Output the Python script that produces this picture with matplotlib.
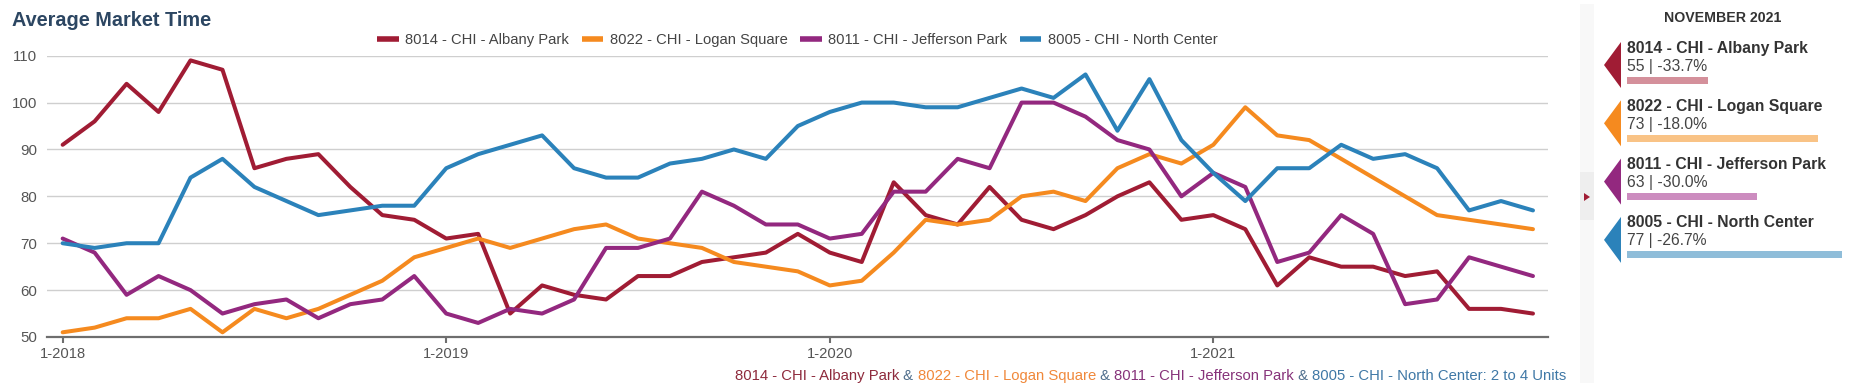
import matplotlib
matplotlib.use("Agg")
import matplotlib.pyplot as plt
from matplotlib.lines import Line2D
from matplotlib.patches import Polygon, Rectangle

plt.rcParams['font.family'] = ['Liberation Sans', 'DejaVu Sans']

W, H = 1873, 383

# monthly average market time, 1-2018 .. 11-2021
albany = [91, 96, 104, 98, 109, 107, 86, 88, 89, 82, 76, 75,
          71, 72, 55, 61, 59, 58, 63, 63, 66, 67, 68, 72,
          68, 66, 83, 76, 74, 82, 75, 73, 76, 80, 83, 75,
          76, 73, 61, 67, 65, 65, 63, 64, 56, 56, 55]
logan = [51, 52, 54, 54, 56, 51, 56, 54, 56, 59, 62, 67,
         69, 71, 69, 71, 73, 74, 71, 70, 69, 66, 65, 64,
         61, 62, 68, 75, 74, 75, 80, 81, 79, 86, 89, 87,
         91, 99, 93, 92, 88, 84, 80, 76, 75, 74, 73]
jefferson = [71, 68, 59, 63, 60, 55, 57, 58, 54, 57, 58, 63,
             55, 53, 56, 55, 58, 69, 69, 71, 81, 78, 74, 74,
             71, 72, 81, 81, 88, 86, 100, 100, 97, 92, 90, 80,
             85, 82, 66, 68, 76, 72, 57, 58, 67, 65, 63]
north = [70, 69, 70, 70, 84, 88, 82, 79, 76, 77, 78, 78,
         86, 89, 91, 93, 86, 84, 84, 87, 88, 90, 88, 95,
         98, 100, 100, 99, 99, 101, 103, 101, 106, 94, 105, 92,
         85, 79, 86, 86, 91, 88, 89, 86, 77, 79, 77]

names = ["8014 - CHI - Albany Park", "8022 - CHI - Logan Square",
         "8011 - CHI - Jefferson Park", "8005 - CHI - North Center"]
series = [albany, logan, jefferson, north]
colors = ["#a01c34", "#f58a1f", "#93287f", "#2b82ba"]
light_colors = ["#d4909b", "#f9c386", "#cc8cbf", "#8fbdd9"]
text_colors = ["#8e2a3c", "#f0883a", "#87337a", "#3f78a6"]

tick_pos = [0, 12, 24, 36]
tick_labels = ["1-2018", "1-2019", "1-2020", "1-2021"]

panel_month = "NOVEMBER 2021"
panel_values = [55, 73, 63, 77]
panel_changes = ["-33.7%", "-18.0%", "-30.0%", "-26.7%"]

fig = plt.figure(figsize=(W / 100, H / 100), dpi=100)
ax = fig.add_axes([47 / W, 1 - 337 / H, 1501 / W, (337 - 55.7) / H])

x = list(range(len(albany)))
for vals, c in zip(series, colors):
    ax.plot(x, vals, color=c, lw=2.9, solid_joinstyle='round', solid_capstyle='round')

ax.set_xlim(-0.49, 46.47)
ax.set_ylim(50, 110)
ax.set_yticks([50, 60, 70, 80, 90, 100, 110])
ax.grid(axis='y', color='#cfcfcf', lw=1)
ax.set_axisbelow(True)
for s in ['top', 'right', 'left']:
    ax.spines[s].set_visible(False)
ax.spines['bottom'].set_color('#6e6e6e')
ax.spines['bottom'].set_linewidth(1.6)
ax.set_xticks(tick_pos)
ax.set_xticklabels(tick_labels)
ax.tick_params(axis='x', length=4.5, width=1.5, color='#6e6e6e', labelcolor='#555555',
               labelsize=10.6, pad=3)
ax.tick_params(axis='y', length=0, labelcolor='#555555', labelsize=10.8, pad=7)

handles = [Line2D([], [], color=c, lw=4, solid_capstyle='butt') for c in colors]
ax.legend(handles, names, loc='center', bbox_to_anchor=(797.5 / W, 1 - 40 / H),
          bbox_transform=fig.transFigure, ncol=4, frameon=False, fontsize=10.6,
          handlelength=1.45, handletextpad=0.45, columnspacing=0.85,
          labelcolor='#444444')

fig.text(12 / W, 1 - 20 / H, "Average Market Time", fontsize=14.3, fontweight='bold',
         color='#2c4662', va='center', ha='left')

# bottom caption in coloured pieces
pieces = []
for i, (n, c) in enumerate(zip(names, text_colors)):
    if i > 0:
        pieces.append((" & ", "#4f6e8c"))
    pieces.append((n if i < 3 else n + ": 2 to 4 Units", c))
prev = fig.text(735 / W, 1 - 376 / H, pieces[0][0], color=pieces[0][1], fontsize=10.75,
                va='center', ha='left')
for txt, c in pieces[1:]:
    prev = ax.annotate(txt, xy=(1, 0.5), xycoords=prev, va='center', ha='left',
                       color=c, fontsize=10.75, annotation_clip=False)

# side strip
fig.patches.append(Rectangle((1580 / W, 0), 14 / W, 1 - 4 / H, transform=fig.transFigure,
                             facecolor='#f8f8f8', edgecolor='none'))
fig.patches.append(Rectangle((1580 / W, 1 - 220 / H), 14 / W, 48 / H, transform=fig.transFigure,
                             facecolor='#eeeeee', edgecolor='none'))
fig.patches.append(Polygon([(1584 / W, 1 - 193 / H), (1584 / W, 1 - 201 / H), (1590 / W, 1 - 197 / H)],
                           closed=True, transform=fig.transFigure, facecolor='#a01c34',
                           edgecolor='none'))

# right panel
pax = fig.add_axes([1627 / W, 0, (1860 - 1627) / W, 1])
pax.set_xlim(41.7, 79.9)
pax.set_ylim(H, 0)
pax.axis('off')
fig.text(1723 / W, 1 - 18 / H, panel_month, fontsize=10.2, fontweight='bold',
         color='#333333', ha='center', va='center')
tr = pax.get_yaxis_transform()
for i in range(len(names)):
    top = 42 + 58.3 * i
    pax.add_patch(Polygon([(-0.0258, top), (-0.0258, top + 46), (-0.0987, top + 23)],
                          closed=True, transform=tr, facecolor=colors[i], edgecolor='none',
                          clip_on=False))
    pax.text(0, top + 6, names[i], transform=tr, fontsize=11.3, fontweight='bold',
             color='#333333', va='center', ha='left')
    pax.text(0, top + 24, f"{panel_values[i]} | {panel_changes[i]}", transform=tr,
             fontsize=11.3, color='#444444', va='center', ha='left')
    pax.barh(top + 38, panel_values[i], height=7, color=light_colors[i])

fig.savefig("out.png", dpi=100)
